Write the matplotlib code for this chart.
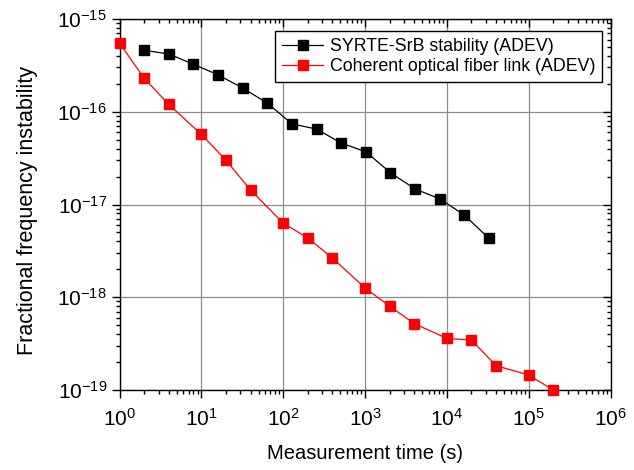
import matplotlib
matplotlib.use('Agg')
import matplotlib.pyplot as plt
from matplotlib.ticker import NullFormatter

plt.rcParams['font.family'] = ['Liberation Sans', 'DejaVu Sans']
plt.rcParams['mathtext.fontset'] = 'custom'
plt.rcParams['mathtext.rm'] = 'Liberation Sans'

# SYRTE-SrB stability (ADEV)
srb_tau = [2, 4, 8, 16, 32, 64, 128, 256, 512, 1024, 2048, 4096, 8192, 16384, 32768]
srb_adev = [4.6e-16, 4.2e-16, 3.25e-16, 2.5e-16, 1.8e-16, 1.24e-16, 7.4e-17, 6.5e-17,
            4.6e-17, 3.7e-17, 2.2e-17, 1.47e-17, 1.15e-17, 7.7e-18, 4.3e-18]

# Coherent optical fiber link (ADEV)
link_tau = [1, 2, 4, 10, 20, 40, 100, 200, 400, 1000, 2000, 4000, 1e4, 2e4, 4e4, 1e5, 2e5]
link_adev = [5.5e-16, 2.3e-16, 1.2e-16, 5.7e-17, 3.0e-17, 1.43e-17, 6.3e-18, 4.35e-18,
             2.65e-18, 1.26e-18, 8.0e-19, 5.2e-19, 3.6e-19, 3.45e-19, 1.83e-19, 1.45e-19, 1.0e-19]

x_ticks = [1e0, 1e1, 1e2, 1e3, 1e4, 1e5, 1e6]
y_ticks = [1e-19, 1e-18, 1e-17, 1e-16, 1e-15]

fig = plt.figure(figsize=(6.34, 4.70), dpi=100)
rect = [119.5 / 634, 1 - 390 / 470, 491 / 634, 371 / 470]

# overlay axes carrying only the inward ticks on top and right
ax2 = fig.add_axes(rect, zorder=5)
ax2.set_xscale('log')
ax2.set_yscale('log')
ax2.set_xticks(x_ticks)
ax2.set_yticks(y_ticks)
ax2.set_xlim(1, 1e6)
ax2.set_ylim(1e-19, 1e-15)
ax2.patch.set_visible(False)
for s in ax2.spines.values():
    s.set_visible(False)
ax2.tick_params(which='both', direction='in', width=1, bottom=False, left=False,
                top=True, right=True, labelbottom=False, labelleft=False)
ax2.tick_params(which='major', length=6)
ax2.tick_params(which='minor', length=3)

ax = fig.add_axes(rect, zorder=1)
ax.plot(srb_tau, srb_adev, color='black', lw=0.9, marker='s', ms=6.5,
        mfc='black', mec='black', label='SYRTE-SrB stability (ADEV)', clip_on=False, zorder=3)
ax.plot(link_tau, link_adev, color='red', lw=0.9, marker='s', ms=6.5,
        mfc='red', mec='red', label='Coherent optical fiber link (ADEV)', clip_on=False, zorder=3)

ax.set_xscale('log')
ax.set_yscale('log')
ax.set_xticks(x_ticks)
ax.set_yticks(y_ticks)
ax.xaxis.set_minor_formatter(NullFormatter())
ax.yaxis.set_minor_formatter(NullFormatter())
ax.set_xlim(1, 1e6)
ax.set_ylim(1e-19, 1e-15)

ax.grid(True, which='major', color='#8c8c8c', lw=0.9)
ax.set_axisbelow(True)

for s in ax.spines.values():
    s.set_linewidth(1.0)

ax.tick_params(axis='x', which='major', direction='out', length=6, width=1, labelsize=15, pad=7)
ax.tick_params(axis='y', which='major', direction='out', length=6, width=1, labelsize=15, pad=3)
ax.tick_params(which='minor', direction='out', length=3, width=1)

ax.set_xlabel('Measurement time (s)', fontsize=14.5)
ax.xaxis.set_label_coords(0.5, -0.145)
ax.set_ylabel('Fractional frequency instability', fontsize=15.5)
ax.yaxis.set_label_coords(-0.166, 0.485)

leg = ax.legend(loc='upper right', bbox_to_anchor=(0.9837, 0.9677), fontsize=12.8,
                frameon=True, fancybox=False, edgecolor='black', framealpha=1,
                borderpad=0.38, labelspacing=0.18, handlelength=2.3, handletextpad=0.4,
                borderaxespad=0)
leg.get_frame().set_linewidth(1.0)

fig.savefig('out.png', dpi=100)
